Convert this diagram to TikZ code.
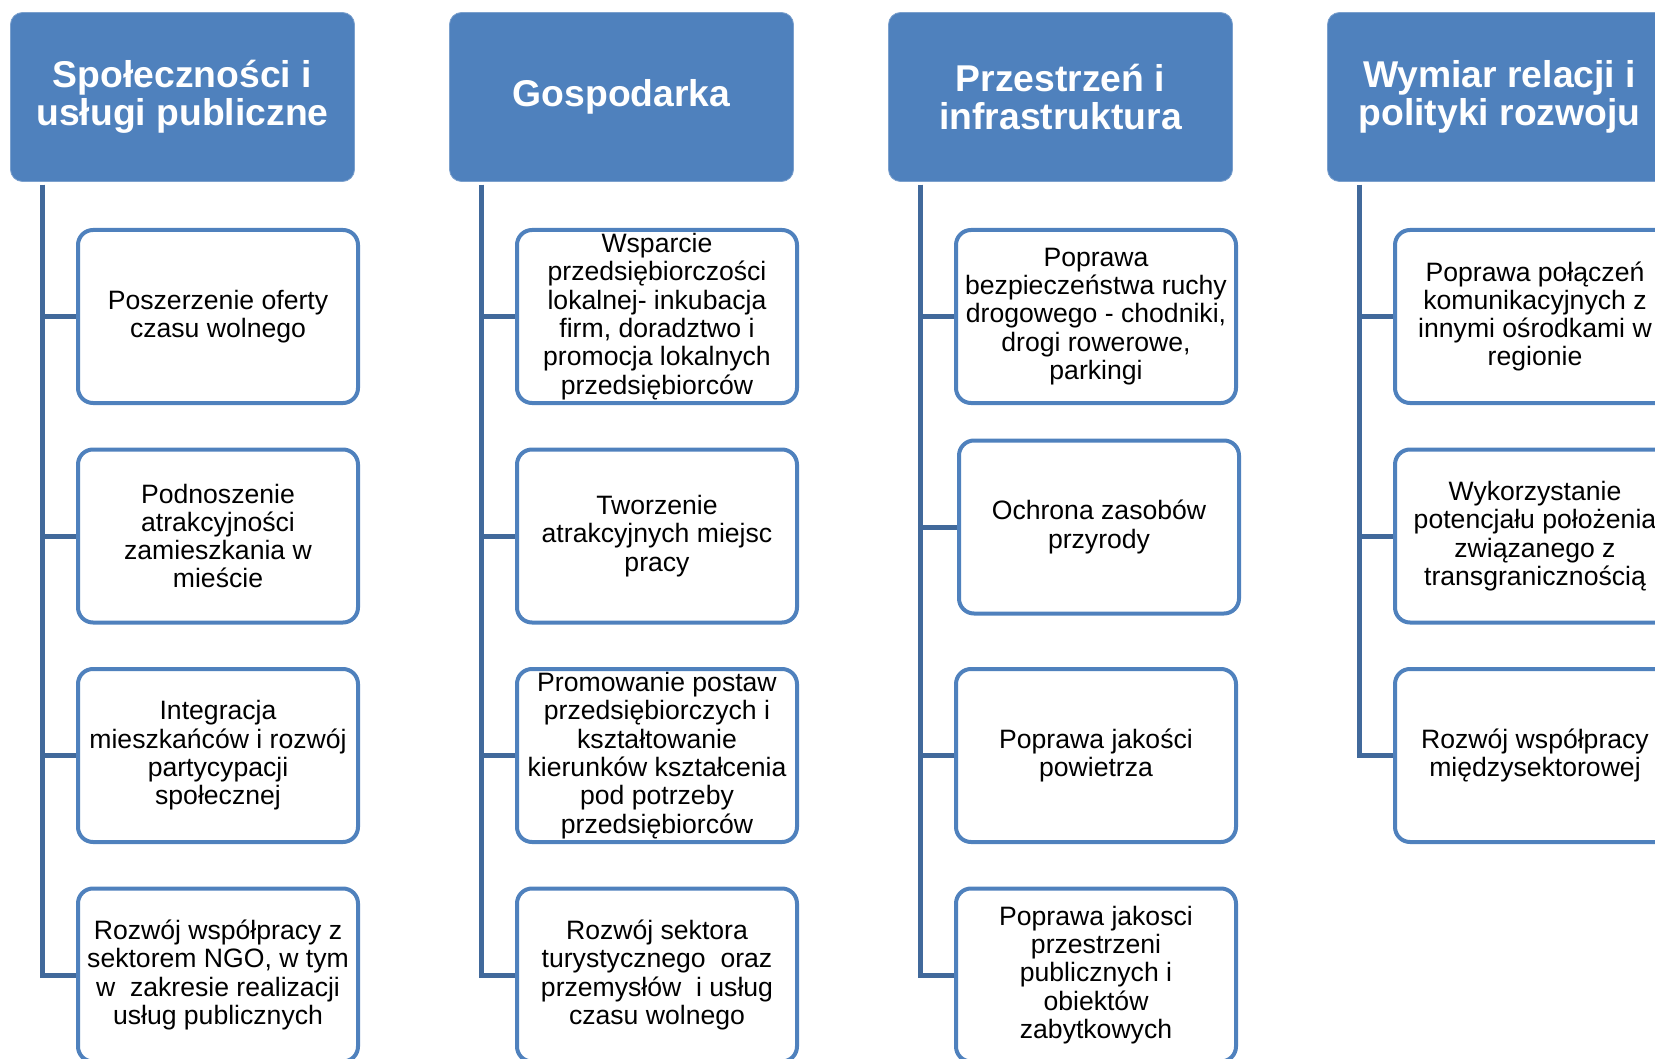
\documentclass[tikz,border=0pt]{standalone}
\usepackage{fontspec}
\setmainfont{Liberation Sans}
\definecolor{hdrblue}{RGB}{79,129,189}
\definecolor{linkblue}{RGB}{65,105,155}
\tikzset{
  headbox/.style={rounded corners=12pt, fill=hdrblue, draw=hdrblue!75!white, line width=0.8pt,
    minimum width=344pt, minimum height=169pt, inner sep=0pt, text=white, align=center,
    font=\fontsize{37.3}{38.3}\selectfont\bfseries},
  itembox/.style={rounded corners=15pt, draw=hdrblue, fill=white, line width=4pt,
    minimum width=280pt, minimum height=173pt, inner sep=0pt, align=center,
    font=\fontsize{26.6}{28.3}\selectfont},
  spine/.style={draw=linkblue, line width=5pt}
}
\begin{document}
\begin{tikzpicture}[x=1pt,y=1pt,yscale=-1]
\useasboundingbox (0,0) rectangle (1655,1059);
\clip (0,0) rectangle (1655,1059);

%Shape: Rounded Rect (headers)
\node[headbox] (h1) at (182.5,97) {Społeczności i\\usługi publiczne};
\node[headbox] (h2) at (621.5,97) {Gospodarka};
\node[headbox] (h3) at (1060.5,97) {Przestrzeń i\\infrastruktura};
\node[headbox] (h4) at (1499.5,97) {Wymiar relacji i\\polityki rozwoju};

%Shape: Rounded Rect (column 1)
\node[itembox] (b11) at (218,316.5) {Poszerzenie oferty\\czasu wolnego};
\node[itembox] (b12) at (218,536) {Podnoszenie\\atrakcyjności\\zamieszkania w\\mieście};
\node[itembox] (b13) at (218,755.5) {Integracja\\mieszkańców i rozwój\\partycypacji\\społecznej};
\node[itembox] (b14) at (218,975) {Rozwój współpracy z\\sektorem NGO, w tym\\w\ \ zakresie realizacji\\usług publicznych};

%Shape: Rounded Rect (column 2)
\node[itembox] (b21) at (657,316.5) {Wsparcie\\przedsiębiorczości\\lokalnej- inkubacja\\firm, doradztwo i\\promocja lokalnych\\przedsiębiorców};
\node[itembox] (b22) at (657,536) {Tworzenie\\atrakcyjnych miejsc\\pracy};
\node[itembox] (b23) at (657,755.5) {Promowanie postaw\\przedsiębiorczych i\\kształtowanie\\kierunków kształcenia\\pod potrzeby\\przedsiębiorców};
\node[itembox] (b24) at (657,975) {Rozwój sektora\\turystycznego\ \ oraz\\przemysłów\ \ i usług\\czasu wolnego};

%Shape: Rounded Rect (column 3)
\node[itembox] (b31) at (1096,316.5) {Poprawa\\bezpieczeństwa ruchy\\drogowego - chodniki,\\drogi rowerowe,\\parkingi};
\node[itembox] (b32) at (1099,527) {Ochrona zasobów\\przyrody};
\node[itembox] (b33) at (1096,755.5) {Poprawa jakości\\powietrza};
\node[itembox] (b34) at (1096,975) {Poprawa jakosci\\przestrzeni\\publicznych i\\obiektów\\zabytkowych};

%Shape: Rounded Rect (column 4)
\node[itembox] (b41) at (1535,316.5) {Poprawa połączeń\\komunikacyjnych z\\innymi ośrodkami w\\regionie};
\node[itembox] (b42) at (1535,536) {Wykorzystanie\\potencjału położenia\\związanego z\\transgranicznością};
\node[itembox] (b43) at (1535,755.5) {Rozwój współpracy\\międzysektorowej};

%Straight Lines (connectors)
\foreach \c/\n in {1/4,2/4,3/4,4/3}{
  \foreach \r in {1,...,\n}{
    \draw[spine] (h\c.south west) ++(32,3) |- (b\c\r.west);
  }
}

\end{tikzpicture}
\end{document}
